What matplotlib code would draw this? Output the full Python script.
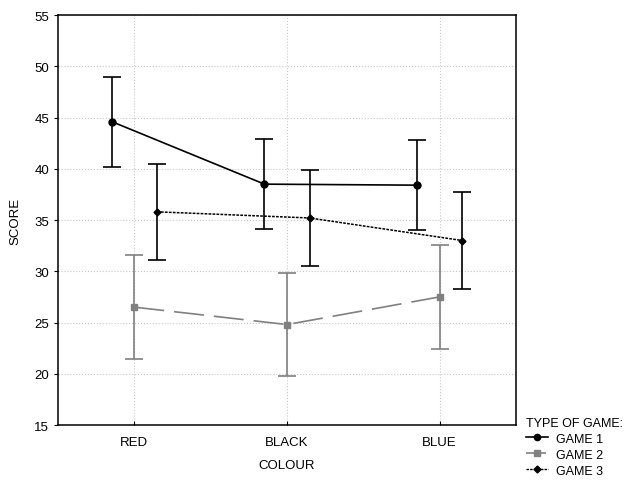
import matplotlib
matplotlib.use("Agg")
import matplotlib.pyplot as plt
from matplotlib.lines import Line2D
import numpy as np

plt.rcParams['font.family'] = ['Liberation Sans', 'DejaVu Sans']

colours = ['RED', 'BLACK', 'BLUE']
game1_mean = [44.6, 38.5, 38.4]
game1_err = [4.4, 4.4, 4.4]
game2_mean = [26.5, 24.8, 27.5]
game2_err = [5.05, 5.05, 5.05]
game3_mean = [35.8, 35.2, 33.0]
game3_err = [4.7, 4.7, 4.7]

x = np.arange(len(colours))
offset = 0.148

fig = plt.figure(figsize=(6.41, 4.81), dpi=100)
ax = fig.add_axes([0.0905, 0.1143, 0.7145, 0.8524])

ax.errorbar(x - offset, game1_mean, yerr=game1_err, color='black', lw=1.2,
            marker='o', ms=5, capsize=6.2, capthick=1.2, elinewidth=1.2, zorder=3)
ax.errorbar(x, game2_mean, yerr=game2_err, color='#808080', lw=1.2,
            marker='s', ms=5, capsize=6.2, capthick=1.2, elinewidth=1.2,
            dashes=(18, 6), zorder=2)
ax.errorbar(x + offset, game3_mean, yerr=game3_err, color='black', lw=1.1,
            marker='D', ms=3.5, capsize=6.2, capthick=1.2, elinewidth=1.2,
            dashes=(1.8, 0.8), zorder=3)

ax.set_xlim(-0.5, 2.5)
ax.set_ylim(15, 55)
ax.set_yticks(np.arange(15, 56, 5))
ax.set_xticks(x)
ax.set_xticklabels(colours)
ax.grid(True, color='#c8c8c8', linestyle=':', lw=0.8)
ax.set_axisbelow(True)
ax.tick_params(axis='both', labelsize=9.5, length=3)
ax.tick_params(axis='x', direction='in', pad=8)
for s in ax.spines.values():
    s.set_linewidth(1.1)

ax.set_xlabel('COLOUR', fontsize=9.5, labelpad=8)
ax.set_ylabel('SCORE', fontsize=9.5, labelpad=9)

handles = [
    Line2D([], [], color='black', lw=1.2, marker='o', ms=4.5),
    Line2D([], [], color='#808080', lw=1.2, marker='s', ms=4.5, dashes=(5, 2)),
    Line2D([], [], color='black', lw=1.0, marker='D', ms=3.5, dashes=(1.8, 0.8)),
]
leg = fig.legend(handles, ['GAME 1', 'GAME 2', 'GAME 3'],
                 loc='upper left', bbox_to_anchor=(517 / 641, 1 - 409 / 481),
                 title='TYPE OF GAME:', fontsize=9, title_fontsize=9,
                 frameon=False, handlelength=1.8, handletextpad=0.6,
                 labelspacing=0.32, borderpad=0.2)
leg._legend_box.align = 'left'

fig.savefig('out.png', dpi=100)
